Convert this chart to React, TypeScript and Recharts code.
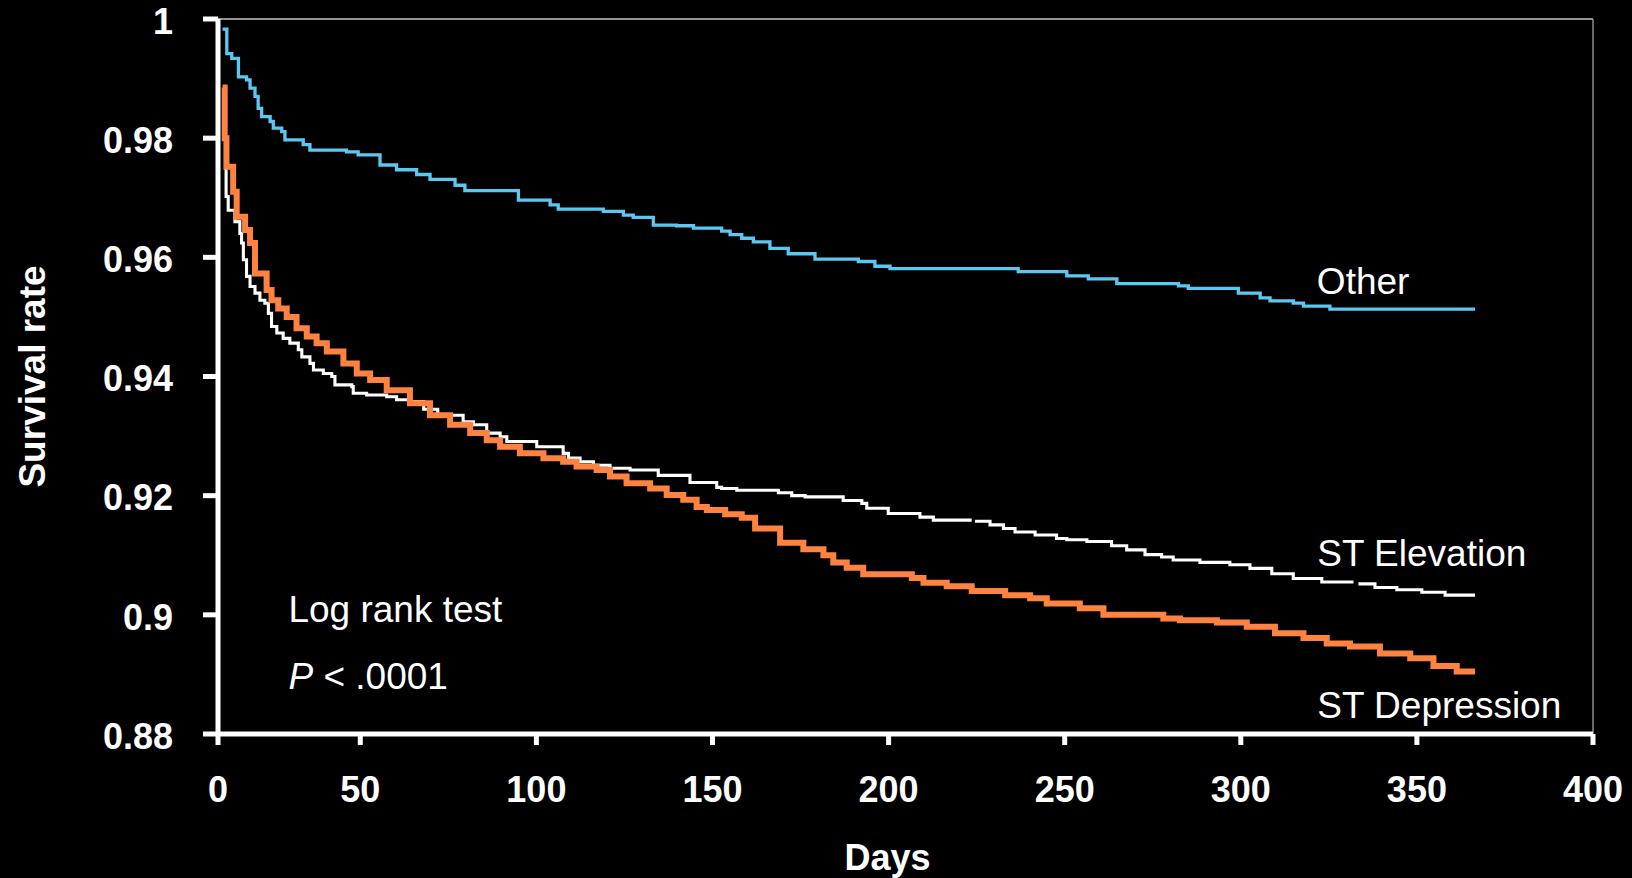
import React from 'react';
import { LineChart, Line, XAxis, YAxis, ReferenceLine, ReferenceDot, Label } from 'recharts';

// --- Data ---
type Pt = [number, number | null];

// left edge of the plot; the reference labels it "0"
const X_MIN = 9.6;
const X_TICKS = [X_MIN, 50, 100, 150, 200, 250, 300, 350, 400];
const X_TICK_LABELS = ['0', '50', '100', '150', '200', '250', '300', '350', '400'];
const Y_TICKS = [0.88, 0.9, 0.92, 0.94, 0.96, 0.98, 1];
const Y_TICK_LABELS = ['0.88', '0.9', '0.92', '0.94', '0.96', '0.98', '1'];

// [day, survival rate]
const OTHER: Pt[] = [
  [10.9, 0.9983], [12.1, 0.9942], [13.5, 0.9934], [15.4, 0.9903], [17.7, 0.9898],
  [18.7, 0.9884], [20.1, 0.987], [21.0, 0.985], [22.0, 0.9836], [24.4, 0.9828],
  [25.3, 0.9817], [27.7, 0.9811], [28.6, 0.9797], [33.8, 0.9789], [35.7, 0.978],
  [46.1, 0.9777], [49.4, 0.9772], [55.6, 0.9755], [60.3, 0.9747], [66.0, 0.9739],
  [69.8, 0.9731], [76.9, 0.9721], [79.7, 0.9712], [94.9, 0.9696], [103.9, 0.9688],
  [106.2, 0.9681], [119.0, 0.9677], [124.7, 0.9671], [127.5, 0.9667], [133.2, 0.9654],
  [139.8, 0.9653], [144.6, 0.9649], [152.6, 0.9644], [155.0, 0.9638], [158.3, 0.9632],
  [161.6, 0.9626], [166.3, 0.9615], [171.5, 0.9606], [179.1, 0.9597], [191.4, 0.9593],
  [196.1, 0.9585], [200.4, 0.9581], [236.8, 0.9576], [250.6, 0.9569], [256.7, 0.9564],
  [264.8, 0.9556], [282.3, 0.9552], [285.1, 0.9548], [299.3, 0.954], [305.5, 0.9532],
  [308.3, 0.9527], [314.9, 0.9523], [317.8, 0.9518], [325.3, 0.9513], [366.5, 0.9513],
];

const ST_ELEVATION: Pt[] = [
  [11.3, 0.9749], [11.9, 0.9702], [12.5, 0.9679], [14.4, 0.966], [15.8, 0.964],
  [16.3, 0.9624], [16.8, 0.9596], [17.7, 0.9568], [18.7, 0.9551], [20.1, 0.954],
  [21.5, 0.9528], [22.9, 0.9523], [23.9, 0.9506], [24.8, 0.9484], [26.3, 0.9473],
  [28.1, 0.9464], [30.0, 0.9456], [32.4, 0.9445], [33.4, 0.9433], [35.7, 0.9422],
  [36.7, 0.9411], [39.5, 0.9405], [41.9, 0.94], [42.8, 0.9386], [47.6, 0.9383],
  [48.0, 0.9372], [51.8, 0.9369], [57.5, 0.9366], [60.3, 0.9361], [64.1, 0.9358],
  [68.0, 0.9345], [72.0, 0.9335], [79.2, 0.9324], [82.1, 0.9319], [85.9, 0.9305],
  [89.7, 0.9299], [91.6, 0.9291], [100.1, 0.9282], [107.6, 0.9271], [109.1, 0.9263],
  [112.4, 0.9257], [116.2, 0.9251], [120.9, 0.9246], [126.6, 0.9243], [134.6, 0.9234],
  [143.6, 0.9222], [151.2, 0.9214], [152.6, 0.9212], [156.9, 0.9209], [168.7, 0.9205],
  [172.5, 0.92], [176.3, 0.9198], [187.1, 0.9192], [192.4, 0.9187], [193.8, 0.9179],
  [199.9, 0.917], [208.9, 0.9164], [212.7, 0.9159], [223.6, 0.9159], [224.0, null],
  [224.5, 0.9157], [228.8, 0.9151], [232.6, 0.9145], [235.9, 0.9139], [241.6, 0.9134],
  [247.7, 0.9128], [250.6, 0.9126], [256.3, 0.9123], [263.3, 0.9116], [267.6, 0.9109],
  [272.8, 0.9101], [277.5, 0.9097], [280.8, 0.9092], [288.4, 0.9088], [296.9, 0.9084],
  [302.6, 0.9078], [308.8, 0.9069], [314.9, 0.9061], [323.0, 0.9055], [332.0, 0.9055],
  [332.7, null], [333.4, 0.9052], [338.1, 0.9046], [344.3, 0.9042], [351.4, 0.9038],
  [358.0, 0.9033], [366.5, 0.9033],
];

const ST_DEPRESSION: Pt[] = [
  [10.9, 0.9885], [11.5, 0.98], [12.0, 0.9752], [13.9, 0.971], [14.9, 0.9668],
  [17.3, 0.9646], [18.7, 0.9624], [20.1, 0.9573], [23.4, 0.9545], [24.8, 0.9528],
  [26.7, 0.9514], [29.1, 0.95], [31.9, 0.9481], [34.8, 0.9467], [37.6, 0.9456],
  [40.5, 0.9442], [45.2, 0.9422], [49.0, 0.9405], [52.8, 0.9394], [57.5, 0.9377],
  [64.1, 0.9355], [69.8, 0.9335], [75.5, 0.9319], [81.2, 0.9305], [85.9, 0.9293],
  [89.7, 0.9282], [95.3, 0.9271], [102.0, 0.9263], [107.6, 0.9257], [111.4, 0.9249],
  [117.1, 0.9243], [120.9, 0.9232], [125.6, 0.9221], [132.3, 0.9212], [137.0, 0.9201],
  [141.7, 0.9193], [145.5, 0.9181], [148.4, 0.9176], [153.6, 0.9169], [158.3, 0.9163],
  [162.1, 0.9145], [169.2, 0.9121], [175.8, 0.911], [181.5, 0.91], [184.3, 0.9088],
  [188.1, 0.9079], [192.8, 0.9068], [206.6, 0.9062], [209.9, 0.9054], [216.5, 0.9048],
  [223.6, 0.904], [233.1, 0.9033], [240.2, 0.9028], [244.9, 0.9019], [254.3, 0.9011],
  [261.0, 0.9], [278.0, 0.8994], [282.7, 0.8991], [293.2, 0.8987], [301.7, 0.898],
  [309.7, 0.8969], [317.8, 0.8961], [324.4, 0.8952], [331.0, 0.8947], [339.5, 0.8935],
  [348.1, 0.8927], [354.7, 0.8914], [361.3, 0.8905], [366.5, 0.8905],
];

const CURVE_LABELS = [
  { text: 'Other', day: 321.6, survival: 0.9561 },
  { text: 'ST Elevation', day: 321.7, survival: 0.9104 },
  { text: 'ST Depression', day: 321.7, survival: 0.8849 },
];
const TEST_NOTE = { day: 29.6, survival: 0.901 };
const P_NOTE = { day: 29.6, survival: 0.8897 };

const FONT = '"Liberation Sans", Arial, Helvetica, sans-serif';

const toRows = (pts: Pt[]) => pts.map(([day, survival]) => ({ day, survival }));

// text left-aligned at the reference dot, vertically centred on it
const noteLabel = (content: React.ReactNode) => (props: any) => {
  const vb = props.viewBox || {};
  const x = (vb.x ?? 0) + (vb.width ?? 0) / 2;
  const y = (vb.y ?? 0) + (vb.height ?? 0) / 2;
  return (
    <text x={x} y={y} dy="0.355em" fill="#fff" fontSize={37} fontFamily={FONT}>
      {content}
    </text>
  );
};

export default function App() {
  return (
    <div style={{ position: 'fixed', left: 0, top: 0, width: 1632, height: 878, background: '#000' }}>
      <LineChart width={1632} height={878} margin={{ top: 19, right: 39, bottom: 0, left: 0 }}>
        <XAxis
          type="number"
          dataKey="day"
          domain={[X_MIN, 400]}
          ticks={X_TICKS}
          interval={0}
          allowDataOverflow
          height={144}
          tickSize={11}
          tickMargin={31}
          tickFormatter={(_v: number, i: number) => X_TICK_LABELS[i]}
          axisLine={{ stroke: '#fff', strokeWidth: 5 }}
          tickLine={{ stroke: '#fff', strokeWidth: 5 }}
          tick={{ fill: '#fff', fontSize: 36, fontWeight: 700, fontFamily: FONT }}
        >
          <Label
            value="Days"
            position="insideBottom"
            offset={8}
            dx={-18}
            fill="#fff"
            style={{ fill: '#fff', fontSize: 36, fontWeight: 700, fontFamily: FONT }}
          />
        </XAxis>
        <YAxis
          type="number"
          domain={[0.88, 1]}
          ticks={Y_TICKS}
          interval={0}
          allowDataOverflow
          width={218}
          tickSize={15}
          tickMargin={30}
          tickFormatter={(_v: number, i: number) => Y_TICK_LABELS[i]}
          axisLine={{ stroke: '#fff', strokeWidth: 5 }}
          tickLine={{ stroke: '#fff', strokeWidth: 5 }}
          tick={{ fill: '#fff', fontSize: 36, fontWeight: 700, fontFamily: FONT, dy: 2 }}
        >
          <Label
            value="Survival rate"
            angle={-90}
            position="insideLeft"
            offset={32}
            style={{ fill: '#fff', fontSize: 37, fontWeight: 700, fontFamily: FONT, textAnchor: 'middle' }}
          />
        </YAxis>

        <ReferenceLine y={1} stroke="#c4c4c4" strokeWidth={1.5} />
        <ReferenceLine x={400} stroke="#8a8a8a" strokeWidth={1.5} />

        <Line
          data={toRows(OTHER)}
          dataKey="survival"
          type="stepAfter"
          stroke="#5cc8f2"
          strokeWidth={3.3}
          dot={false}
          connectNulls={false}
          isAnimationActive={false}
        />
        <Line
          data={toRows(ST_ELEVATION)}
          dataKey="survival"
          type="stepAfter"
          stroke="#ffffff"
          strokeWidth={3.1}
          dot={false}
          connectNulls={false}
          isAnimationActive={false}
        />
        <Line
          data={toRows(ST_DEPRESSION)}
          dataKey="survival"
          type="stepAfter"
          stroke="#ff8340"
          strokeWidth={6}
          dot={false}
          connectNulls={false}
          isAnimationActive={false}
        />

        {CURVE_LABELS.map((c) => (
          <ReferenceDot key={c.text} x={c.day} y={c.survival} r={0} fill="none" stroke="none">
            <Label content={noteLabel(c.text)} />
          </ReferenceDot>
        ))}
        <ReferenceDot x={TEST_NOTE.day} y={TEST_NOTE.survival} r={0} fill="none" stroke="none">
          <Label content={noteLabel('Log rank test')} />
        </ReferenceDot>
        <ReferenceDot x={P_NOTE.day} y={P_NOTE.survival} r={0} fill="none" stroke="none">
          <Label
            content={noteLabel(
              <>
                <tspan fontStyle="italic">P</tspan>
                <tspan> &lt; .0001</tspan>
              </>
            )}
          />
        </ReferenceDot>
      </LineChart>
    </div>
  );
}
